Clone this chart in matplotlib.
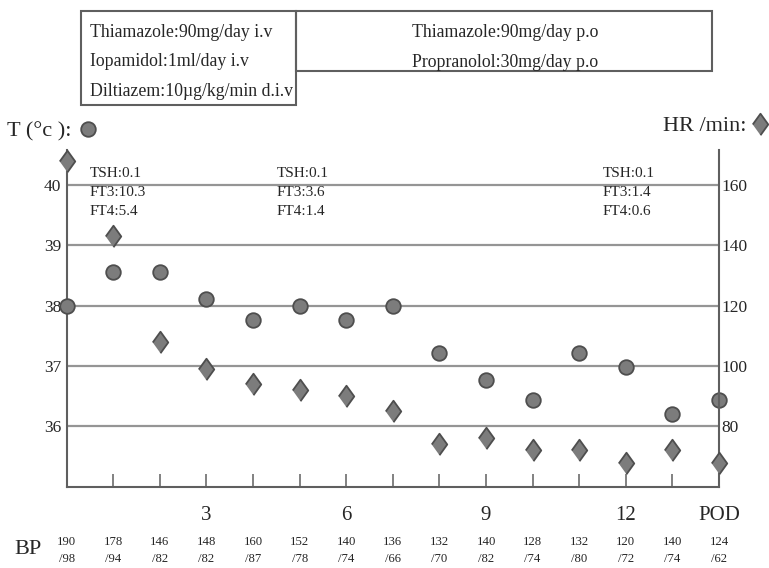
"""Temperature and heart rate course with thyroid labs and blood pressure"""

import matplotlib.pyplot as plt
import matplotlib.transforms as mtransforms
from matplotlib.lines import Line2D
from matplotlib.patches import Rectangle

plt.rcParams["font.family"] = ["Liberation Serif", "DejaVu Serif"]

# data
days = list(range(15))
temp_c = [38.0, 38.56, 38.56, 38.11, 37.77, 38.0, 37.77, 38.0,
          37.21, 36.77, 36.43, 37.21, 36.99, 36.21, 36.43]
heart_rate = [168, 143, 108, 99, 94, 92, 90, 85, 74, 76, 72, 72, 68, 72, 68]
bp_systolic = [190, 178, 146, 148, 160, 152, 140, 136, 132, 140, 128, 132, 120, 140, 124]
bp_diastolic = [98, 94, 82, 82, 87, 78, 74, 66, 70, 82, 74, 80, 72, 74, 62]
tick_days = list(range(1, 15))
tick_names = {3: "3", 6: "6", 9: "9", 12: "12", 14: "POD"}
temp_ticks = [36, 37, 38, 39, 40]
hr_ticks = [80, 100, 120, 140, 160]
lab_days = [1, 5, 12]
lab_text = [
    ["TSH:0.1", "FT3:10.3", "FT4:5.4"],
    ["TSH:0.1", "FT3:3.6", "FT4:1.4"],
    ["TSH:0.1", "FT3:1.4", "FT4:0.6"],
]
iv_drugs = ["Thiamazole:90mg/day i.v", "Iopamidol:1ml/day i.v", "Diltiazem:10\u00b5g/kg/min d.i.v"]
po_drugs = ["Thiamazole:90mg/day p.o", "Propranolol:30mg/day p.o"]

TEXT = "#262626"
LINE = "#5f5f5f"
FILL = "#7c7c7c"
EDGE = "#4e4e4e"
DIAMOND = [(-0.72, 0), (0, 1), (0.72, 0), (0, -1)]

W, H = 769, 568
fig = plt.figure(figsize=(W / 100, H / 100), dpi=100)


def px(x, y):
    """pixel position (from top left) -> figure fraction"""
    return x / W, 1 - y / H


left, right, bottom, top = 66.7, 719, 486.7, 150
ax = fig.add_axes([left / W, 1 - bottom / H, (right - left) / W, (bottom - top) / H])
ax2 = ax.twinx()

# T axis 35..top, HR axis tied to it (36C <-> 80, 1C <-> 20/min)
t_lo = 35.0
t_hi = t_lo + (bottom - top) / ((bottom - 185.0) / 5.0)
ax.set_ylim(t_lo, t_hi)
ax2.set_ylim(80 + (t_lo - 36) * 20, 80 + (t_hi - 36) * 20)
ax.set_xlim(0, 14)

ax.set_yticks(temp_ticks)
ax.set_yticklabels([str(t) for t in temp_ticks], fontsize=12.5, color=TEXT)
ax2.set_yticks(hr_ticks)
ax2.set_yticklabels([str(h) for h in hr_ticks], fontsize=12.5, color=TEXT)
ax.tick_params(axis="y", length=0, pad=4)
ax2.tick_params(axis="y", length=0, pad=2)
ax.grid(axis="y", color="#959595", lw=1.6)
ax.set_axisbelow(True)

ax.set_xticks(tick_days)
ax.set_xticklabels([tick_names.get(d, "") for d in tick_days], fontsize=15, color=TEXT)
ax.tick_params(axis="x", direction="in", length=9.5, width=1.1, color=LINE, pad=14)

for a in (ax, ax2):
    a.spines["top"].set_visible(False)
    for s in a.spines.values():
        s.set_color(LINE)
        s.set_linewidth(1.5)
ax.spines["right"].set_visible(False)
ax2.spines["left"].set_visible(False)
ax2.spines["bottom"].set_visible(False)

ax.plot(days, temp_c, "o", ms=10.5, mfc=FILL, mec=EDGE, mew=1.3, clip_on=False, zorder=3)
ax2.plot(days, heart_rate, marker=DIAMOND, ls="none", ms=15.5, mfc=FILL, mec=EDGE, mew=1.3,
         clip_on=False, zorder=3)

# thyroid labs
for d, lines in zip(lab_days, lab_text):
    ax.text(d - 0.5, 39.88, "\n".join(lines), fontsize=11, color=TEXT,
            ha="left", va="center", linespacing=1.62)

# blood pressure row
trans = mtransforms.blended_transform_factory(ax.transData, fig.transFigure)
for d, s, dia in zip(days, bp_systolic, bp_diastolic):
    ax.text(d, 1 - 541.7 / H, str(s), transform=trans, fontsize=9.2,
            color=TEXT, ha="center", va="center")
    ax.text(d, 1 - 559 / H, "/" + str(dia), transform=trans, fontsize=9.2,
            color=TEXT, ha="center", va="center")
fig.text(*px(28, 550), "BP", fontsize=16, color=TEXT, ha="center", va="center")

# marker keys
t_key = Line2D([], [], ls="none", marker="o", ms=10.5, mfc=FILL, mec=EDGE, mew=1.3)
hr_key = Line2D([], [], ls="none", marker=DIAMOND, ms=15.5, mfc=FILL, mec=EDGE, mew=1.3)
fig.legend([t_key], ["T (\u00b0c ):"], loc="center left", bbox_to_anchor=px(7, 131),
           frameon=False, markerfirst=False, handlelength=1.0, handletextpad=0.25,
           borderpad=0, borderaxespad=0, prop={"size": 16}, labelcolor=TEXT)
fig.legend([hr_key], ["HR /min:"], loc="center right", bbox_to_anchor=px(769, 126),
           frameon=False, markerfirst=False, handlelength=0.8, handletextpad=0.2,
           borderpad=0, borderaxespad=0, prop={"size": 16}, labelcolor=TEXT)

# treatment boxes
x0, y0 = px(80.7, 105)
x1, y1 = px(296, 11)
fig.add_artist(Rectangle((x0, y0), x1 - x0, y1 - y0, transform=fig.transFigure,
                         fill=False, ec=LINE, lw=1.5))
x2, y2 = px(712, 71)
fig.add_artist(Rectangle((x1, y2), x2 - x1, y1 - y2, transform=fig.transFigure,
                         fill=False, ec=LINE, lw=1.5))
for i, name in enumerate(iv_drugs):
    fig.text(*px(90, 32.5 + 29.5 * i), name, fontsize=12.8, color=TEXT, ha="left", va="center")
for i, name in enumerate(po_drugs):
    fig.text(*px(505, 32.5 + 30 * i), name, fontsize=12.8, color=TEXT, ha="center", va="center")

fig.savefig("out.png", dpi=100)
